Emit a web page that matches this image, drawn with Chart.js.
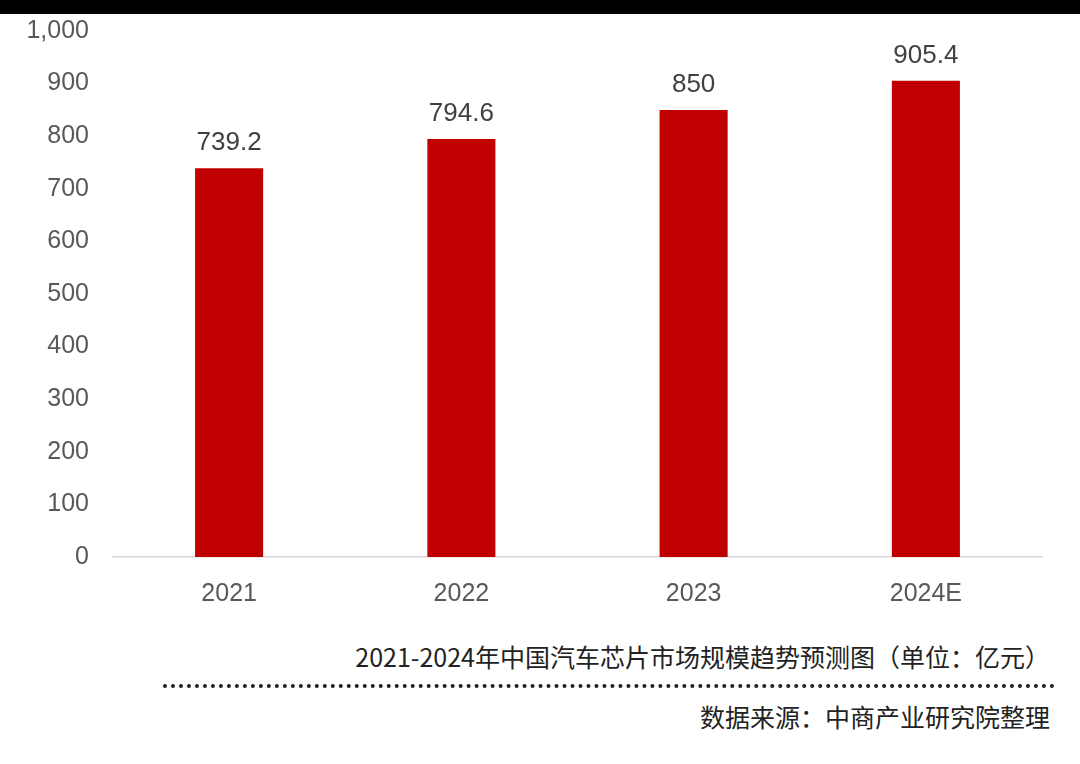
<!DOCTYPE html>
<html><head><meta charset="utf-8">
<script src="https://cdn.jsdelivr.net/npm/chart.js@4"></script>
<style>
body{margin:0;width:1080px;height:764px;background:#fff;position:relative;overflow:hidden;font-family:"Noto Sans CJK SC","Noto Sans",sans-serif}
#top{position:absolute;left:0;top:0;width:1080px;height:14px;background:#000;z-index:2}
#wrap{position:absolute;left:0;top:0;width:1080px;height:620px}
.t{position:absolute;right:30px;color:#222;font-size:25px;white-space:nowrap}
#dots{position:absolute;left:163px;width:892px;top:684px;height:0;border-top:4px dotted #222}
</style></head><body>
<div id="top"></div>
<div id="wrap"><canvas id="c"></canvas></div>
<div class="t" style="top:638px">2021-2024年中国汽车芯片市场规模趋势预测图（单位：亿元）</div>
<div id="dots"></div>
<div class="t" style="top:698px">数据来源：中商产业研究院整理</div>
<script>
const categories=["2021","2022","2023","2024E"];
const values=[739.2,794.6,850,905.4];
const valueLabels=["739.2","794.6","850","905.4"];
const labelPlugin={id:'lbl',afterDatasetsDraw(ch){const ctx=ch.ctx;ctx.save();ctx.font='26px "Liberation Sans", Arial, sans-serif';ctx.fillStyle='#404040';ctx.textAlign='center';ctx.textBaseline='bottom';
ch.getDatasetMeta(0).data.forEach((b,i)=>ctx.fillText(valueLabels[i],b.x,b.y-12));ctx.restore();}};
new Chart(document.getElementById('c'),{type:'bar',
data:{labels:categories,datasets:[{data:values,backgroundColor:'#c00000',barPercentage:0.293,categoryPercentage:1}]},
options:{responsive:true,maintainAspectRatio:false,animation:false,
layout:{padding:{top:24,right:38,left:0,bottom:0}},
plugins:{legend:{display:false},tooltip:{enabled:false}},
scales:{
x:{grid:{display:false},border:{color:'#d9d9d9',width:1.5},ticks:{color:'#595959',font:{size:25,family:'"Liberation Sans", Arial'},padding:14},afterFit(s){s.height=63;}},
y:{min:0,max:1000,grid:{display:false},border:{display:false},ticks:{stepSize:100,color:'#595959',font:{size:25,family:'"Liberation Sans", Arial'},padding:16},afterFit(s){s.width=113;}}
}},plugins:[labelPlugin]});
</script></body></html>
